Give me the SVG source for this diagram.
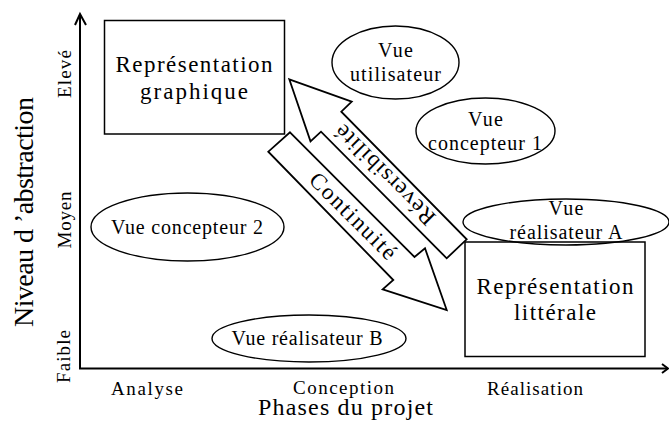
<svg xmlns="http://www.w3.org/2000/svg" width="669" height="425" viewBox="0 0 669 425">
<style>
text{font-family:"Liberation Serif","Times New Roman",serif;fill:#000}
.box{fill:none;stroke:#000;stroke-width:1.5}
.ell{fill:none;stroke:#000;stroke-width:1.4}
.big{font-size:23px;text-anchor:middle}
.v{font-size:20px;text-anchor:middle}
.ax{font-size:19px;text-anchor:middle}
.axis{fill:none;stroke:#000;stroke-width:2}
.arr{fill:#fff;stroke:#000;stroke-width:1.8;stroke-linejoin:miter}
</style>
<rect width="669" height="425" fill="#fff"/>
<g id="axes">
<line class="axis" x1="80" y1="14" x2="80" y2="369"/>
<polyline class="axis" stroke-width="1.5" points="75,25 80,14 86,25"/>
<line class="axis" x1="79" y1="368.5" x2="668" y2="368.5"/>
<polyline class="axis" stroke-width="1.5" points="662,364 668,368.5 662,373"/>
<text class="ax" transform="translate(71,74) rotate(-90)" textLength="48">Elevé</text>
<text class="ax" transform="translate(71,220) rotate(-90)" textLength="57">Moyen</text>
<text class="ax" transform="translate(70,356.5) rotate(-90)" textLength="53">Faible</text>
<text style="font-size:28px;text-anchor:middle" transform="translate(33,212) rotate(-90)" textLength="230">Niveau d ’abstraction</text>
<text class="ax" x="147" y="395" textLength="72">Analyse</text>
<text class="ax" x="343.5" y="394" textLength="101">Conception</text>
<text class="ax" x="535" y="395" textLength="96">Réalisation</text>
<text style="font-size:24px;text-anchor:middle" x="345.5" y="415" textLength="175">Phases du projet</text>
</g>
<g id="rep-graphique">
<rect class="box" x="104.5" y="20.5" width="180" height="113.5"/>
<text class="big" x="194" y="71.5" textLength="157">Représentation</text>
<text class="big" x="194" y="99" textLength="108">graphique</text>
</g>
<g id="rep-litterale">
<rect class="box" x="465" y="242" width="180" height="114.5"/>
<text class="big" x="555" y="293.5" textLength="157">Représentation</text>
<text class="big" x="555" y="320" textLength="82">littérale</text>
</g>
<g id="vue-utilisateur">
<ellipse class="ell" cx="395.5" cy="62.5" rx="63.5" ry="36.5"/>
<text class="v" x="395.5" y="57" textLength="35">Vue</text>
<text class="v" x="395.5" y="81" textLength="91">utilisateur</text>
</g>
<g id="vue-concepteur-1">
<ellipse class="ell" cx="485.5" cy="131" rx="69.5" ry="33"/>
<text class="v" x="485.5" y="126" textLength="35">Vue</text>
<text class="v" x="485" y="150" textLength="114">concepteur 1</text>
</g>
<g id="vue-realisateur-a">
<ellipse class="ell" cx="566" cy="222" rx="103" ry="23"/>
<text class="v" x="566" y="215" textLength="35">Vue</text>
<text class="v" x="566" y="239" textLength="113">réalisateur A</text>
</g>
<g id="vue-concepteur-2">
<ellipse class="ell" cx="187.5" cy="227" rx="96.5" ry="34"/>
<text class="v" x="187" y="234" textLength="152">Vue concepteur 2</text>
</g>
<g id="vue-realisateur-b">
<ellipse class="ell" cx="309" cy="338.5" rx="97" ry="23.5"/>
<text class="v" x="307" y="345" textLength="151">Vue réalisateur B</text>
</g>
<g id="connectors">
<g id="reversibilite">
<polygon class="arr" points="289.3,79.3 351.7,101.7 341.3,111.7 466.7,239.3 446.7,258.3 321,131.7 310.5,141.3"/>
<text class="big" transform="translate(385,175) rotate(225)" x="0" y="7.5" textLength="132">Réversibilité</text>
</g>
<g id="continuite">
<polygon class="arr" points="290,132.3 414.5,257 425,248.3 446.7,310 382.7,289.3 393.3,280 268.3,151.7"/>
<text class="big" transform="translate(353,216) rotate(45)" x="0" y="7.5" textLength="113">Continuité</text>
</g>
</g>
</svg>
